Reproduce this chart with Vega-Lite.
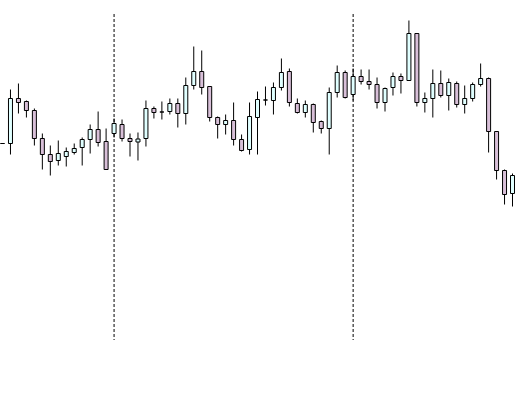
{
  "$schema": "https://vega.github.io/schema/vega-lite/v6.json",
  "width": 515,
  "height": 395,
  "autosize": {"type": "fit", "contains": "padding"},
  "padding": 0,
  "config": {"view": {"stroke": null}, "scale": {"continuousPadding": 0}},
  "datasets": {
    "candles": [
      {"i":0,"o":257,"h":257,"l":257,"c":257},
      {"i":1,"o":257,"h":311,"l":246,"c":302},
      {"i":2,"o":302,"h":317,"l":287,"c":298},
      {"i":3,"o":299,"h":300,"l":283,"c":290},
      {"i":4,"o":290,"h":292,"l":255,"c":262},
      {"i":5,"o":262,"h":267,"l":231,"c":246},
      {"i":6,"o":246,"h":255,"l":225,"c":239},
      {"i":7,"o":240,"h":260,"l":235,"c":247},
      {"i":8,"o":244,"h":253,"l":234,"c":249},
      {"i":9,"o":248,"h":257,"l":246,"c":252},
      {"i":10,"o":253,"h":263,"l":235,"c":261},
      {"i":11,"o":261,"h":276,"l":247,"c":271},
      {"i":12,"o":271,"h":289,"l":254,"c":258},
      {"i":13,"o":259,"h":272,"l":231,"c":231},
      {"i":14,"o":267,"h":282,"l":263,"c":277},
      {"i":15,"o":276,"h":281,"l":259,"c":262},
      {"i":16,"o":262,"h":267,"l":244,"c":259},
      {"i":17,"o":258.5,"h":268,"l":240,"c":261.5},
      {"i":18,"o":262,"h":300,"l":254,"c":292},
      {"i":19,"o":292,"h":294,"l":282,"c":288},
      {"i":20,"o":288.5,"h":299,"l":281,"c":288.5},
      {"i":21,"o":289,"h":302,"l":286,"c":297},
      {"i":22,"o":297,"h":302,"l":273,"c":287},
      {"i":23,"o":287,"h":323,"l":276,"c":315},
      {"i":24,"o":315,"h":354,"l":311,"c":329},
      {"i":25,"o":329,"h":350,"l":306,"c":313},
      {"i":26,"o":314,"h":314,"l":279,"c":283},
      {"i":27,"o":283,"h":284,"l":262,"c":276},
      {"i":28,"o":276,"h":286,"l":266,"c":280},
      {"i":29,"o":280,"h":298,"l":255,"c":261},
      {"i":30,"o":261,"h":266,"l":249,"c":250},
      {"i":31,"o":251,"h":298,"l":246,"c":284},
      {"i":32,"o":283,"h":309,"l":246,"c":301},
      {"i":33,"o":300.5,"h":314,"l":295,"c":300.5},
      {"i":34,"o":300,"h":318,"l":286,"c":313},
      {"i":35,"o":313,"h":342,"l":310,"c":328},
      {"i":36,"o":329,"h":332,"l":294,"c":298},
      {"i":37,"o":297,"h":302,"l":287,"c":288},
      {"i":38,"o":288,"h":300,"l":283,"c":296},
      {"i":39,"o":296,"h":297,"l":268,"c":278},
      {"i":40,"o":279,"h":280,"l":267,"c":272},
      {"i":41,"o":272,"h":313,"l":246,"c":308},
      {"i":42,"o":308,"h":335,"l":303,"c":328},
      {"i":43,"o":328,"h":330,"l":302,"c":303},
      {"i":44,"o":306,"h":332,"l":300,"c":324},
      {"i":45,"o":324,"h":331,"l":316,"c":319},
      {"i":46,"o":319,"h":331,"l":311,"c":316},
      {"i":47,"o":316,"h":323,"l":292,"c":298},
      {"i":48,"o":298,"h":313,"l":289,"c":312},
      {"i":49,"o":313,"h":328,"l":305,"c":324},
      {"i":50,"o":324,"h":327,"l":307,"c":320},
      {"i":51,"o":320,"h":380,"l":320,"c":367},
      {"i":52,"o":367,"h":367,"l":294,"c":298},
      {"i":53,"o":298,"h":308,"l":288,"c":302},
      {"i":54,"o":302,"h":331,"l":283,"c":317},
      {"i":55,"o":317,"h":330,"l":303,"c":305},
      {"i":56,"o":305,"h":322,"l":290,"c":318},
      {"i":57,"o":317,"h":319,"l":293,"c":296},
      {"i":58,"o":296,"h":315,"l":287,"c":302},
      {"i":59,"o":302,"h":318,"l":299,"c":316},
      {"i":60,"o":316,"h":337,"l":314,"c":322},
      {"i":61,"o":322,"h":323,"l":248,"c":269},
      {"i":62,"o":269,"h":269,"l":221,"c":230},
      {"i":63,"o":230,"h":231,"l":196,"c":206},
      {"i":64,"o":207,"h":227,"l":194,"c":225}
    ],
    "vlines": [
      {"pos": 14, "top": 386, "bottom": 60},
      {"pos": 44, "top": 386, "bottom": 60}
    ]
  },
  "data": {"name": "candles"},
  "layer": [
    {
      "data": {"name": "vlines"},
      "mark": {"type": "rule", "color": "black", "strokeWidth": 1, "strokeDash": [3, 2], "xOffset": 0.5},
      "encoding": {
        "x": {"field": "pos", "type": "quantitative", "scale": {"domain": [0, 64.375], "nice": false, "zero": false, "padding": 0}, "axis": null},
        "y": {"field": "top", "type": "quantitative", "scale": {"domain": [5, 400], "nice": false, "zero": false, "padding": 0}, "axis": null},
        "y2": {"field": "bottom"}
      }
    },
    {
      "mark": {"type": "rule", "color": "black", "strokeWidth": 1, "xOffset": 0.5, "yOffset": 0.5, "y2Offset": 0.5},
      "encoding": {
        "x": {"field": "i", "type": "quantitative", "scale": {"domain": [0, 64.375], "nice": false, "zero": false, "padding": 0}, "axis": null},
        "y": {"field": "l", "type": "quantitative", "scale": {"domain": [5, 400], "nice": false, "zero": false, "padding": 0}, "axis": null},
        "y2": {"field": "h"}
      }
    },
    {
      "mark": {"type": "bar", "size": 4, "stroke": "black", "strokeWidth": 1, "xOffset": 0.5, "yOffset": 0.5, "y2Offset": 0.5},
      "encoding": {
        "x": {"field": "i", "type": "quantitative", "scale": {"domain": [0, 64.375], "nice": false, "zero": false, "padding": 0}, "axis": null},
        "y": {"field": "o", "type": "quantitative", "scale": {"domain": [5, 400], "nice": false, "zero": false, "padding": 0}, "axis": null},
        "y2": {"field": "c"},
        "fill": {"condition": {"test": "datum.c > datum.o", "value": "#e0ffff"}, "value": "#d8bfd8"}
      }
    }
  ]
}
